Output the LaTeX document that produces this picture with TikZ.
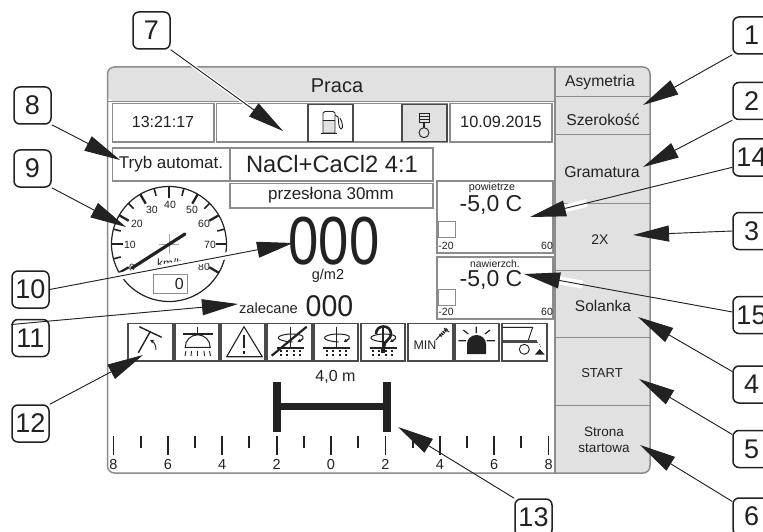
\documentclass[tikz,border=0pt]{standalone}
\usepackage{fontspec}
\setmainfont{Liberation Sans}
\usetikzlibrary{arrows.meta,calc}
\definecolor{ink}{HTML}{222222}
\definecolor{panel}{HTML}{E1E1E1}
\definecolor{edge}{HTML}{8C8C8C}
\definecolor{iconedge}{HTML}{4A4A4A}
\newcommand{\fs}[1]{\fontsize{#1}{#1}\selectfont}
\newcommand{\sprayicon}[1]{%
  \begin{scope}[shift={(#1,0)}]
    \draw[ink,line width=1.3pt] (0,326.5) -- (0,348);
    \draw[ink,line width=1pt] (2,342) .. controls (-16,341) and (-17,335) .. (0,334) .. controls (14,334) and (16,338) .. (9,341);
    \draw[ink,line width=1pt,-{Stealth[length=3.5pt,width=3.5pt]}] (12,339) -- (7,342);
    \draw[ink,line width=1.6pt] (-13.5,348) -- (13.5,348);
    \foreach \d in {-10,-4,3,9}{\draw[ink,line width=2pt,dash pattern=on 2pt off 2pt] (\d,350) -- (\d,358);}
  \end{scope}}
\tikzset{
  x=1pt,y=-1pt,
  txt/.style={inner sep=0pt,text=ink,font=\fs{#1}},
  frameline/.style={draw=edge,line width=1.5pt},
  cellbox/.style={draw=edge,line width=1.2pt,fill=white},
  iconbox/.style={draw=iconedge,line width=1.5pt,fill=white},
  icn/.style={draw=ink,line width=.9pt},
  callout/.style={draw=ink,line width=1.5pt,rounded corners=6pt,minimum width=37pt,minimum height=37pt,inner sep=0pt,fill=white,text=ink,font=\fs{27}},
  leader/.style={draw=ink,line width=.9pt,-{Triangle[length=36pt,width=16pt]},fill=ink},
  halo/.style={draw=white,line width=#1},
}
\begin{document}
\begin{tikzpicture}
\useasboundingbox (0,0) rectangle (763,532);
\clip (0,0) rectangle (763,532);
\fill[white] (0,0) rectangle (763,532);
% frame and panels
\fill[panel,rounded corners=7pt] (107.5,67) -- (650,67) -- (650,80) -- (650,101) -- (107.5,101) -- cycle;
\fill[panel,rounded corners=7pt] (555,67) -- (650,67) -- (650,473) -- (555,473) -- cycle;
\fill[panel] (555,90) rectangle (600,473);
\draw[frameline,rounded corners=7pt] (107.5,67) rectangle (650,473);
\draw[frameline] (107.5,101.5) -- (555,101.5);
\draw[frameline] (555,67) -- (555,473);
\foreach \yy in {97,135,203,270,337,405}{\draw[draw=edge,line width=1pt] (555,\yy) -- (650,\yy);}
% top row
\draw[cellbox] (112.5,103.5) rectangle (214,142);
\draw[cellbox] (216.5,103.5) rectangle (447,142);
\draw[cellbox] (450,103.5) rectangle (552,142);
\draw[iconbox] (308,104.5) rectangle (353,141.5);
\draw[iconbox,fill=panel] (402,104.5) rectangle (447,141.5);
% fuel icon
\fill[panel] (323,120) rectangle (335,133);
\draw[icn] (323,133) -- (323,113) -- (325,111.5) -- (333,111.5) -- (335,113) -- (335,133) -- cycle;
\draw[icn] (323,120) -- (335,120);
\draw[icn] (321,133) -- (337,133);
\draw[icn] (335,115) -- (338,117) .. controls (339,120) and (338,128) .. (341,129) .. controls (344,129) and (342,121) .. (340,118);
% engine icon
\draw[icn,fill=panel] (419,113) rectangle (429,122);
\draw[icn] (419,116) -- (429,116);
\draw[icn] (419,119) -- (429,119);
\draw[icn,line width=1.4pt] (424,122) -- (424,128);
\draw[icn] (424,132.7) circle[radius=5];
% info boxes
\draw[cellbox] (112.5,148) rectangle (230,181);
\draw[cellbox] (230,148) rectangle (433,181);
\draw[cellbox] (230,183.5) rectangle (433,208);
\draw[cellbox] (437,181) rectangle (553,253);
\draw[cellbox] (437,257) rectangle (553,319);
\draw[draw=edge,line width=.8pt,fill=white] (438.5,221) rectangle (455,237);
\draw[draw=edge,line width=.8pt,fill=white] (438.5,289) rectangle (455,305);
% gauge
\draw[ink,line width=1.2pt] (169,244) circle[radius=57.5];
\foreach \s in {150,180,...,390}{\draw[ink,line width=2.3pt] ([shift={(169,244)}]\s:57.5) -- ([shift={(169,244)}]\s:46.5);}
\foreach \s in {165,195,...,375}{\draw[ink,line width=1.6pt] ([shift={(169,244)}]\s:57.5) -- ([shift={(169,244)}]\s:50);}
\draw[draw=black!35,line width=.7pt] (159,244) -- (179,244) (169,234) -- (169,254);
\foreach \nm/\xx/\yy/\lab in {ga/132/268/0,gb/130/245/10,gc/137/224/20,gd/152/210/30,ge/170/205/40,gf/192/210/50,gg/204/224/60,gh/210/245/70,gi/204/267/80}
  {\node[txt=10.5] (\nm) at (\xx,\yy) {\lab};}
\node[txt=12] (kmh) at (170,263) {km/h};
\draw[ink,line width=3.2pt,line cap=round] (132,268) -- (185,234);
\draw[draw=edge,line width=1pt,fill=white] (153,274) rectangle (187,293);
\node[txt=16,anchor=east] (gval) at (184,284) {0};
% texts
\node[txt=20] (praca) at (337,86) {Praca};
\node[txt=16] (clock) at (163,122) {13:21:17};
\node[txt=16.3] (date) at (501,122) {10.09.2015};
\node[txt=17] (tryb) at (171,164) {Tryb automat.};
\node[txt=23.7] (mix) at (332,164) {NaCl+CaCl2 4:1};
\node[txt=17] (prz) at (331,195) {przesłona 30mm};
\node[txt=68,xscale=.8] (big) at (334,241) {000};
\node[txt=14.5] (gm) at (328,276) {g/m2};
\node[txt=14.7] (zal) at (268.5,308) {zalecane};
\node[txt=30,xscale=.95] (rec) at (329.5,306) {000};
\node[txt=15.7] (b1) at (600,82) {Asymetria};
\node[txt=15.7] (b2) at (603,120) {Szerokość};
\node[txt=15.8] (b3) at (602,172) {Gramatura};
\node[txt=14] (b4) at (600,240) {2X};
\node[txt=15.5] (b5) at (603,306) {Solanka};
\node[txt=13] (b6) at (602,373) {START};
\node[txt=13.5] (b7a) at (604,432) {Strona};
\node[txt=13.5] (b7b) at (604,448) {startowa};
\node[txt=10.8] (t1a) at (492,188) {powietrze};
\node[txt=23] (t1b) at (491,205) {-5,0 C};
\node[txt=10.5] (t1c) at (446,246) {-20};
\node[txt=10.5] (t1d) at (547,246) {60};
\node[txt=10.4] (t2a) at (495,264) {nawierzch.};
\node[txt=23] (t2b) at (491,280) {-5,0 C};
\node[txt=10.5] (t2c) at (446,312) {-20};
\node[txt=10.5] (t2d) at (547,312) {60};
% icon row
\foreach \xa/\xb in {128/173,175/219,221/265,267/312,314/358,361/405,408/453,455/499,502/547}
  {\draw[iconbox] (\xa,323.5) rectangle (\xb,361);}
% icon 1
\draw[ink,line width=1.4pt] (139.3,326.7) -- (161.7,337.3);
\draw[ink,line width=1.4pt] (150,332) -- (138.3,352.7);
\draw[icn,-{Stealth[length=4pt,width=4pt]}] (156,350) .. controls (156,345) and (154,342) .. (150,340);
% icon 2
\draw[ink,line width=1.3pt] (182.7,334) -- (212.7,334) (197.7,327) -- (197.7,334);
\draw[ink,line width=1pt] (185.2,347.3) arc[start angle=180,end angle=360,radius=12.5] -- cycle;
\foreach \xa/\xb in {186/185,191.5/191,197.7/197.7,204/204.5,209.5/210.5}{\draw[icn] (\xa,351) -- (\xb,356);}
% icon 3
\draw[ink,line width=1.1pt,line join=round] (244,326.7) -- (226.7,356.7) -- (262.3,356.7) -- cycle;
\draw[ink,line width=2.2pt] (244,335) -- (244,348);
\draw[ink,line width=2.2pt] (244,350.5) -- (244,353.5);
% icons 4-6
\sprayicon{290.5}
\draw[ink,line width=2.2pt] (271.7,355.7) -- (306.7,326.7);
\sprayicon{336.7}
\sprayicon{383}
\draw[ink,line width=2.6pt] (376,334) .. controls (376,324) and (391,324) .. (391,334) .. controls (391,340) and (384,340) .. (384,347);
\fill[ink] (381,349) rectangle (385,353);
% icon MIN
\node[txt=12.5] (minlab) at (425,345) {MIN};
\draw[icn,line width=1pt] (436,340) -- (441,334);
\draw[ink,line width=3pt,dash pattern=on 1.5pt off .8pt] (440,336) -- (447,329);
\draw[icn] (444,328) -- (449,332);
% icon beacon
\fill[ink] (467,354) -- (467,344) arc[start angle=180,end angle=360,x radius=9.5,y radius=9] -- (486,354) -- cycle;
\draw[ink,line width=1.2pt] (476.3,326.7) -- (476.3,333) (463.3,330) -- (468.3,334) (485,334) -- (490,330) (458.3,340.7) -- (466,340.7) (486.7,340.7) -- (495,340.7);
% icon trailer
\draw[icn] (502.7,327.3) -- (532.7,327.3) -- (528,341);
\draw[iconedge,line width=3pt] (502.7,341.7) -- (536.7,341.7);
\draw[icn] (524.3,349.3) circle[radius=5];
\draw[ink,line width=.8pt,dotted] (537.3,342) .. controls (540,343) and (541,346) .. (540.7,349);
\fill[ink] (535,354.5) -- (544.5,354.5) -- (539.7,349) -- cycle;
% width bar
\node[txt=16] (wid) at (335.5,377) {4,0 m};
\fill[ink] (273,382) rectangle (281,432);
\fill[ink] (383,382) rectangle (391,432);
\fill[ink] (281,403) rectangle (383,410);
% ruler
\foreach \i in {0,2,...,16}{\draw[ink,line width=1.8pt] ({113.5+27.19*\i},436) -- ({113.5+27.19*\i},455);}
\foreach \i in {1,3,...,15}{\draw[ink,line width=2pt] ({113.5+27.19*\i},436) -- ({113.5+27.19*\i},448);}
\foreach \nm/\i/\lab in {ra/0/8,rb/2/6,rc/4/4,rd/6/2,re/8/0,rf/10/2,rg/12/4,rh/14/6,ri/16/8}
  {\node[txt=14.5] (\nm) at ({113.5+27.19*\i},464.5) {\lab};}
% callouts
\node[callout] (c1) at (751.5,35.5) {1};
\node[callout] (c2) at (751.5,101) {2};
\node[callout] (c3) at (751.5,231) {3};
\node[callout] (c4) at (751.5,384.5) {4};
\node[callout] (c5) at (751.5,449) {5};
\node[callout] (c6) at (751.5,516.5) {6};
\node[callout] (c7) at (151.5,30.5) {7};
\node[callout] (c8) at (32.5,105.5) {8};
\node[callout] (c9) at (32.5,168.5) {9};
\node[callout] (c10) at (30.5,289.5) {10};
\node[callout] (c11) at (30.5,338) {11};
\node[callout] (c12) at (30.5,423.5) {12};
\node[callout] (c13) at (533.5,517.5) {13};
\node[callout] (c14) at (751.5,157.5) {14};
\node[callout] (c15) at (751.5,315) {15};
% leader ends
\coordinate (e1) at (643,105);
\coordinate (e2) at (643,167);
\coordinate (e3) at (633,235);
\coordinate (e4) at (638,317);
\coordinate (e5) at (639,379);
\coordinate (e6) at (640,445);
\coordinate (e7) at (283,131);
\coordinate (e8) at (120,160);
\coordinate (e9) at (126,227);
\coordinate (e10) at (293,243);
\coordinate (e11) at (238,304);
\coordinate (e12) at (143,355);
\coordinate (e13) at (398,427);
\coordinate (e14) at (530,217);
\coordinate (e15) at (524,274);
% halos
\draw[halo=3.5pt] ($(c7.south east)!.12!(e7)$) -- ($(c7.south east)!.7!(e7)$);
\draw[halo=7pt] ($(c10.east)!.28!(e10)$) -- ($(c10.east)!.75!(e10)$);
\draw[halo=8pt] ($(c14.207)!.72!(e14)$) -- ($(c14.207)!.86!(e14)$);
\draw[halo=8pt] ($(c15.171)!.72!(e15)$) -- ($(c15.171)!.86!(e15)$);
% leaders
\draw[leader] (c1.south west) -- (e1);
\draw[leader] (c2.south west) -- (e2);
\draw[leader] (c3.west) -- (e3);
\draw[leader] (c4.146) -- (e4);
\draw[leader] (c5.143) -- (e5);
\draw[leader] (c6.142) -- (e6);
\draw[leader] (c7.south east) -- (e7);
\draw[leader] (c8.south east) -- (e8);
\draw[leader] (c9.south east) -- (e9);
\draw[leader] (c10.east) -- (e10);
\draw[leader] (c11.145) -- (e11);
\draw[leader] (c12.north east) -- (e12);
\draw[leader] (c13.north west) -- (e13);
\draw[leader] (c14.207) -- (e14);
\draw[leader] (c15.171) -- (e15);
\end{tikzpicture}
\end{document}
